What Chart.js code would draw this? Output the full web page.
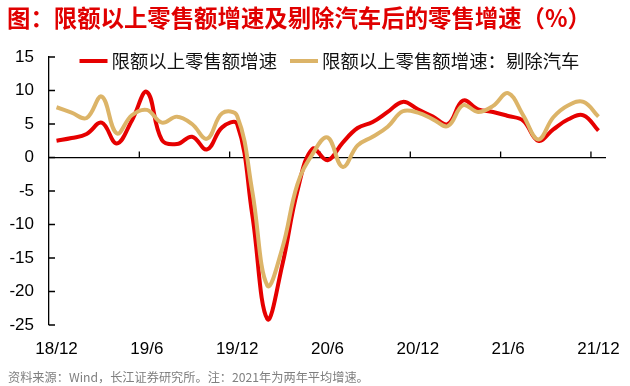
<!DOCTYPE html>
<html>
<head>
<meta charset="utf-8">
<title>限额以上零售增速</title>
<script src="https://cdn.jsdelivr.net/npm/chart.js@4/dist/chart.umd.min.js"></script>
<style>
    body { margin: 0; background: #fff; }
    canvas { display: block; }
</style>
</head>
<body>
<canvas id="myChart" width="630" height="386"></canvas>
<script>
// data ------------------------------------------------------------
const months = [
    '18/12', '19/1', '19/2', '19/3', '19/4', '19/5', '19/6', '19/7', '19/8', '19/9', '19/10', '19/11',
    '19/12', '20/1', '20/2', '20/3', '20/4', '20/5', '20/6', '20/7', '20/8', '20/9', '20/10', '20/11',
    '20/12', '21/1', '21/2', '21/3', '21/4', '21/5', '21/6', '21/7', '21/8', '21/9', '21/10', '21/11',
    '21/12'
];
const retail = [
    2.5, 2.9, 3.5, 5.2, 2.1, 5.5, 9.8, 2.6, 2.0, 3.1, 1.2, 4.5,
    5.0, -8.5, -24.1, -16, -5, 1.3, -0.4, 2.2, 4.4, 5.3, 6.8, 8.3,
    7.2, 6.1, 5.0, 8.5, 7.2, 6.8, 6.2, 5.5, 2.5, 4.2, 5.7, 6.3,
    4.0
];
const retailExAuto = [
    7.5, 6.7, 5.9, 9.1, 3.6, 6.3, 7.1, 5.2, 6.1, 5.0, 2.8, 6.6,
    6.2, -5, -19.1, -13.5, -4, 0.5, 3.0, -1.4, 1.8, 3.1, 4.6, 6.9,
    6.7, 5.7, 4.7, 7.8, 6.8, 7.7, 9.6, 6.3, 2.7, 6.0, 7.8, 8.3,
    6.1
];
const seriesNames = ['限额以上零售额增速', '限额以上零售额增速：剔除汽车'];
const yTicks = { min: -25, max: 15, step: 5 };
const titleText = '图：限额以上零售额增速及剔除汽车后的零售增速（%）';
const sourceText = '资料来源：Wind，长江证券研究所。注：2021年为两年平均增速。';

const RED = '#e60000';
const GOLD = '#dcb468';
const CJK = '"Noto Sans CJK SC", "Noto Sans", sans-serif';
const NUM = 'Arial, "Liberation Sans", sans-serif';

// tick marks: y ticks pointing inside, x ticks on the zero line
const tickMarks = {
    id: 'tickMarks',
    beforeDatasetsDraw(chart) {
        const ctx = chart.ctx;
        const x = chart.scales.x, y = chart.scales.y;
        const left = chart.chartArea.left;
        const y0 = y.getPixelForValue(0);
        ctx.save();
        ctx.strokeStyle = '#000';
        ctx.lineWidth = 1.3;
        ctx.beginPath();
        y.ticks.forEach(t => {
            const py = y.getPixelForValue(t.value);
            ctx.moveTo(left, py);
            ctx.lineTo(left + 6, py);
        });
        for (let i = 6; i < months.length; i += 6) {
            const px = (x.getPixelForValue(i - 1) + x.getPixelForValue(i)) / 2;
            ctx.moveTo(px, y0);
            ctx.lineTo(px, y0 - 6);
        }
        ctx.stroke();
        ctx.restore();
    }
};

// title, legend (inside plot) and source note
const texts = {
    id: 'texts',
    afterDraw(chart) {
        const ctx = chart.ctx;
        const area = chart.chartArea;
        ctx.save();
        ctx.textBaseline = 'middle';
        ctx.textAlign = 'left';

        ctx.fillStyle = '#e00000';
        ctx.font = 'bold 23.4px ' + CJK;
        ctx.fillText(titleText, 7, 18);

        ctx.fillStyle = '#7f7f7f';
        ctx.font = '12.2px ' + CJK;
        ctx.fillText(sourceText, 8, 377);

        // legend
        ctx.font = '18.4px ' + CJK;
        const sw = 28, gap = 4, itemGap = 13;
        const ds = chart.data.datasets;
        let total = 0;
        ds.forEach((d, i) => {
            total += sw + gap + ctx.measureText(d.label).width + (i ? 0 : itemGap);
        });
        let lx = (area.left + area.right) / 2 - total / 2 + 2;
        const ly = 61;
        ds.forEach(d => {
            ctx.strokeStyle = d.borderColor;
            ctx.lineWidth = 4;
            ctx.beginPath();
            ctx.moveTo(lx, ly);
            ctx.lineTo(lx + sw, ly);
            ctx.stroke();
            lx += sw + gap;
            ctx.fillStyle = '#111';
            ctx.fillText(d.label, lx, ly);
            lx += ctx.measureText(d.label).width + itemGap;
        });
        ctx.restore();
    }
};

const data = {
    labels: months,
    datasets: [{
        label: seriesNames[0],
        data: retail,
        borderColor: RED,
        backgroundColor: RED,
        borderWidth: 4,
        pointRadius: 0,
        tension: 0.4,
        order: 2
    }, {
        label: seriesNames[1],
        data: retailExAuto,
        borderColor: GOLD,
        backgroundColor: GOLD,
        borderWidth: 4,
        pointRadius: 0,
        tension: 0.4,
        order: 1
    }]
};

const config = {
    type: 'line',
    data: data,
    options: {
        responsive: false,
        animation: false,
        layout: { padding: { left: 0, right: 24, top: 57, bottom: 0 } },
        plugins: {
            legend: { display: false },
            tooltip: { enabled: false }
        },
        scales: {
            x: {
                offset: true,
                grid: { display: false },
                border: { display: false },
                ticks: {
                    autoSkip: false,
                    maxRotation: 0,
                    padding: 6,
                    color: '#000',
                    font: { family: NUM, size: 17 },
                    callback: (v, i) => i % 6 === 0 ? months[i] : ''
                },
                afterFit: s => { s.height = 61 }
            },
            y: {
                min: yTicks.min,
                max: yTicks.max,
                ticks: {
                    stepSize: yTicks.step,
                    padding: 15,
                    color: '#000',
                    font: { family: NUM, size: 17 }
                },
                grid: {
                    drawTicks: false,
                    lineWidth: 1.3,
                    color: c => c.tick && c.tick.value === 0 ? '#000' : 'rgba(0,0,0,0)'
                },
                border: { display: true, color: '#000', width: 1.3 },
                afterFit: s => { s.width = 49 }
            }
        }
    },
    plugins: [tickMarks, texts]
};

const myChart = new Chart(document.getElementById('myChart'), config);
</script>
</body>
</html>
